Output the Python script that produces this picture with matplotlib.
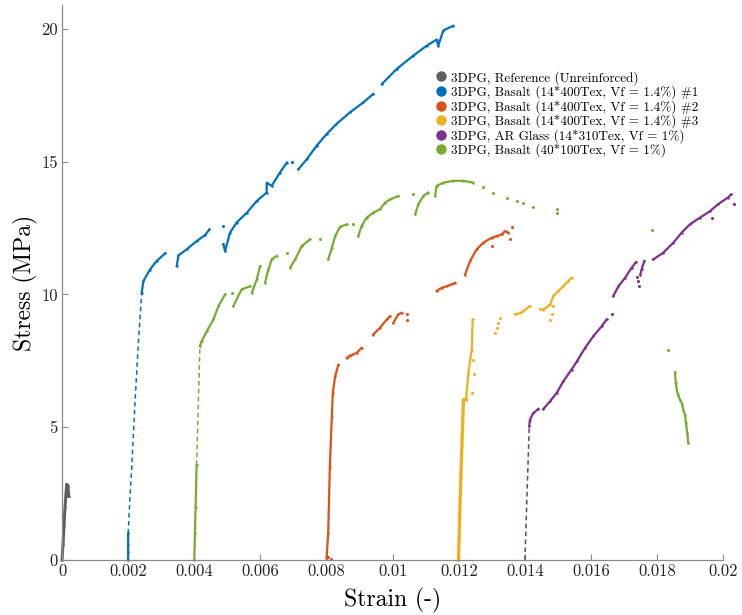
import matplotlib
matplotlib.use('Agg')
import matplotlib.pyplot as plt
import numpy as np
from matplotlib.lines import Line2D
from matplotlib.ticker import FuncFormatter

nan = np.nan

plt.rcParams['font.family'] = ['cmr10', 'DejaVu Serif']
plt.rcParams['axes.formatter.use_mathtext'] = True
plt.rcParams['mathtext.fontset'] = 'cm'

# ---- data (strain, stress) ----
# reference, unreinforced
ref_x = [0, 0.00003, 0.00006, 0.00009, 0.00012, 0.00014, 0.00018, 0.00019, 0.0002]
ref_y = [0, 0.6, 1.3, 2.0, 2.5, 2.85, 2.8, 2.6, 2.4]

# basalt 14*400Tex #1
b1_x = [0.002, 0.002, 0.002, 0.002, nan,
        0.00241, 0.00246, 0.00266, 0.00286, 0.00312, nan,
        0.00347, 0.00352, 0.00377, 0.00407, 0.00432, 0.00446, nan,
        0.00488, 0.00493, 0.00508, 0.00528, 0.00559, 0.00589, 0.00619, 0.00619,
        0.00634, 0.00659, 0.0068, nan,
        0.00715, 0.0074, 0.0077, 0.008, 0.0083, 0.00871, 0.00911, 0.00941, nan,
        0.00967, 0.01012, 0.01062, 0.01103, 0.01133, 0.01138, 0.01153, 0.01183]
b1_y = [0, 0.3, 0.6, 1.0, nan,
        10.06, 10.5, 10.94, 11.26, 11.55, nan,
        11.07, 11.47, 11.7, 12.01, 12.23, 12.45, nan,
        11.89, 11.63, 12.33, 12.71, 13.08, 13.52, 13.84, 14.21,
        14.09, 14.59, 14.97, nan,
        14.72, 15.09, 15.6, 16.04, 16.42, 16.86, 17.23, 17.55, nan,
        17.92, 18.49, 18.99, 19.37, 19.6, 19.37, 19.94, 20.12]
b1_rise_x = [0.002, 0.00206, 0.00211, 0.00216, 0.00221, 0.0023, 0.00241]
b1_rise_y = [1.0, 2.5, 3.5, 4.8, 6.0, 8.0, 10.06]
b1_dot_x = [0.00488, 0.00695]
b1_dot_y = [12.58, 14.99]

# basalt 14*400Tex #2
b2_x = [0.008, 0.00805, 0.0081, 0.00816, 0.00819, 0.00826, 0.00836, nan,
        0.00861, 0.00871, 0.00881, 0.00891, 0.00906, nan,
        0.00941, 0.00962, 0.00982, 0.00992, nan,
        0.01002, 0.01017, 0.01027, nan,
        0.01133, 0.01148, 0.01163, 0.01178, 0.01189, nan,
        0.01219, 0.01234, 0.01254, 0.01274, 0.013, 0.01315, 0.0133, 0.0134, 0.0135]
b2_y = [0.06, 1.0, 3.52, 5.41, 6.29, 6.92, 7.36, nan,
        7.61, 7.7, 7.74, 7.8, 7.99, nan,
        8.49, 8.75, 9.06, 9.18, nan,
        8.93, 9.25, 9.31, nan,
        10.13, 10.25, 10.31, 10.38, 10.44, nan,
        10.75, 11.26, 11.7, 11.95, 12.14, 12.2, 12.26, 12.39, 12.33]
b2_dot_x = [0.00803, 0.00812, 0.01042, 0.01042, 0.01299, 0.01355, 0.0136]
b2_dot_y = [0.1, 0.05, 9.25, 9.03, 11.82, 12.08, 12.55]

# basalt 14*400Tex #3
b3_rise_x = [0.01199, 0.01204, 0.01209, 0.01214, 0.01222]
b3_rise_y = [0.0, 2.26, 4.15, 6.04, 6.04]
b3_x = [0.01222, 0.01229, 0.01239, 0.01242, nan,
        0.0137, 0.01385, 0.01395, 0.01415, nan,
        0.01446, 0.01456, 0.01476, 0.01486, 0.01501, 0.01516, 0.01531, 0.01541]
b3_y = [6.04, 7.04, 7.92, 9.06, nan,
        9.25, 9.3, 9.37, 9.56, nan,
        9.45, 9.43, 9.62, 9.94, 10.13, 10.31, 10.5, 10.63]
b3_dot_x = [0.01242, 0.01245, 0.01241, 0.0131, 0.01315, 0.0132, 0.01325,
            0.01486, 0.01481, 0.01476]
b3_dot_y = [7.55, 7.0, 6.3, 8.55, 8.74, 8.93, 9.12,
            9.56, 9.25, 9.03]

# AR glass 14*310Tex
ar_x = [0.01413, 0.01415, 0.01425, 0.01441, nan,
        0.01456, 0.01476, 0.01496, 0.01516, 0.01541, 0.01557, 0.01582, 0.01607,
        0.01632, 0.01647, nan,
        0.01667, 0.01683, 0.01703, 0.01723, 0.01736, nan,
        0.01749, 0.01753, 0.01761, nan,
        0.01788, 0.01818, 0.01849, 0.01874, 0.01899, 0.01929, 0.0196, 0.01984,
        0.02014, 0.02024]
ar_y = [5.03, 5.28, 5.53, 5.69, nan,
        5.69, 5.98, 6.29, 6.73, 7.17, 7.48, 7.99, 8.43,
        8.8, 9.06, nan,
        9.94, 10.31, 10.63, 11.01, 11.22, nan,
        10.75, 10.95, 11.26, nan,
        11.32, 11.57, 11.95, 12.33, 12.64, 12.89, 13.14, 13.4,
        13.65, 13.77]
ar_rise_x = [0.014, 0.01413]
ar_rise_y = [0.0, 5.03]
ar_dot_x = [0.01662, 0.01738, 0.01743, 0.01746, 0.01965, 0.02032]
ar_dot_y = [9.25, 10.67, 10.5, 10.31, 12.89, 13.4]

# basalt 40*100Tex
b4_x = [0.004, 0.00402, 0.00404, 0.00407, nan,
        0.00417, 0.00422, 0.00438, 0.00458, 0.00473, 0.00493, nan,
        0.00518, 0.00543, 0.00569, nan,
        0.00574, 0.00589, 0.00599, nan,
        0.00614, 0.00624, 0.00634, 0.00649, nan,
        0.0069, 0.00705, 0.00725, 0.0075, nan,
        0.00805, 0.00816, 0.00826, 0.00841, 0.00861, nan,
        0.00896, 0.00906, 0.00921, 0.00941, 0.00962, 0.00977, 0.00992, 0.01017, nan,
        0.01068, 0.01078, 0.01093, 0.01108, nan,
        0.01128, 0.01133, 0.01153, 0.01183, 0.01214, 0.01244, nan,
        0.01854, 0.01856, 0.01862, 0.01869, 0.01875, 0.01879, 0.01884, 0.01887,
        0.01891, 0.01894]
b4_y = [0, 1.0, 2.0, 3.58, nan,
        8.05, 8.24, 8.62, 9.06, 9.56, 10.0, nan,
        9.56, 10.19, 10.31, nan,
        10.06, 10.57, 11.07, nan,
        10.44, 10.94, 11.32, 11.45, nan,
        11.01, 11.32, 11.82, 12.08, nan,
        11.32, 11.76, 12.2, 12.55, 12.64, nan,
        12.2, 12.58, 12.89, 13.08, 13.21, 13.46, 13.58, 13.71, nan,
        13.02, 13.4, 13.71, 13.84, nan,
        13.71, 14.09, 14.21, 14.28, 14.28, 14.21, nan,
        7.07, 6.67, 6.25, 6.04, 5.89, 5.66, 5.47, 5.16,
        4.78, 4.4]
b4_rise_x = [0.00407, 0.00417]
b4_rise_y = [3.58, 8.05]
b4_dot_x = [0.00513, 0.0068, 0.0078, 0.00881, 0.01062, 0.01274, 0.01304, 0.01345,
            0.01375, 0.01395, 0.01425, 0.01496, 0.01496, 0.01785, 0.01832]
b4_dot_y = [10.06, 11.57, 12.08, 12.64, 13.77, 14.03, 13.84, 13.65,
            13.52, 13.46, 13.31, 13.21, 13.08, 12.42, 7.9]

labels = ['3DPG, Reference (Unreinforced)',
          '3DPG, Basalt (14*400Tex, Vf = 1.4%) #1',
          '3DPG, Basalt (14*400Tex, Vf = 1.4%) #2',
          '3DPG, Basalt (14*400Tex, Vf = 1.4%) #3',
          '3DPG, AR Glass (14*310Tex, Vf = 1%)',
          '3DPG, Basalt (40*100Tex, Vf = 1%)']
colors = ['#606060', '#0072BD', '#D95319', '#EDB120', '#7E2F8E', '#77AC30']

fig = plt.figure(figsize=(7.42, 6.15), dpi=100)
ax = fig.add_axes([0.0836, 0.0894, 0.8912, 0.9024])


def draw(x, y, c, dx=None, dy=None, rx=None, ry=None, dashed=True, lw=1.6):
    ax.plot(x, y, '-', color=c, lw=lw, marker='o', ms=1.8, mew=0, clip_on=False)
    if dx is not None:
        ax.plot(dx, dy, 'o', color=c, ms=2.2, mew=0, clip_on=False)
    if rx is not None:
        if dashed:
            ax.plot(rx, ry, color=c, lw=1.1, ls=(0, (3, 2.2)), clip_on=False)
        else:
            ax.plot(rx, ry, color=c, lw=2.4, clip_on=False)


draw(ref_x, ref_y, colors[0], lw=2.2)
draw(b1_x, b1_y, colors[1], b1_dot_x, b1_dot_y, b1_rise_x, b1_rise_y)
draw(b2_x, b2_y, colors[2], b2_dot_x, b2_dot_y)
draw(b3_x, b3_y, colors[3], b3_dot_x, b3_dot_y, b3_rise_x, b3_rise_y, dashed=False)
draw(ar_x, ar_y, colors[4], ar_dot_x, ar_dot_y, ar_rise_x, ar_rise_y)
draw(b4_x, b4_y, colors[5], b4_dot_x, b4_dot_y, b4_rise_x, b4_rise_y)

ax.set_xlim(0, 0.02)
ax.set_ylim(0, 20.9)
ax.set_xticks(np.arange(0, 0.0201, 0.002))
ax.set_yticks([0, 5, 10, 15, 20])
ax.xaxis.set_major_formatter(FuncFormatter(lambda v, p: f'{v:g}'))
ax.yaxis.set_major_formatter(FuncFormatter(lambda v, p: f'{v:g}'))

for s in ['top', 'right']:
    ax.spines[s].set_visible(False)
for s in ['left', 'bottom']:
    ax.spines[s].set_color('#8a8a8a')
    ax.spines[s].set_linewidth(0.9)
ax.tick_params(direction='in', length=4, width=0.8, color='#8a8a8a',
               labelsize=12, labelcolor='#262626', pad=3)

ax.set_xlabel('Strain (-)', fontsize=17, labelpad=6)
ax.set_ylabel('Stress (MPa)', fontsize=17, labelpad=2)

handles = [Line2D([], [], ls='none', marker='o', ms=7.5, mew=0, color=c) for c in colors]
fig.legend(handles, labels, loc='upper left', bbox_to_anchor=(0.587, 0.885),
           frameon=False, fontsize=9.5, handlelength=0.8, handletextpad=0.35,
           labelspacing=0.05, borderpad=0, borderaxespad=0)

plt.savefig('out.png', dpi=100)
